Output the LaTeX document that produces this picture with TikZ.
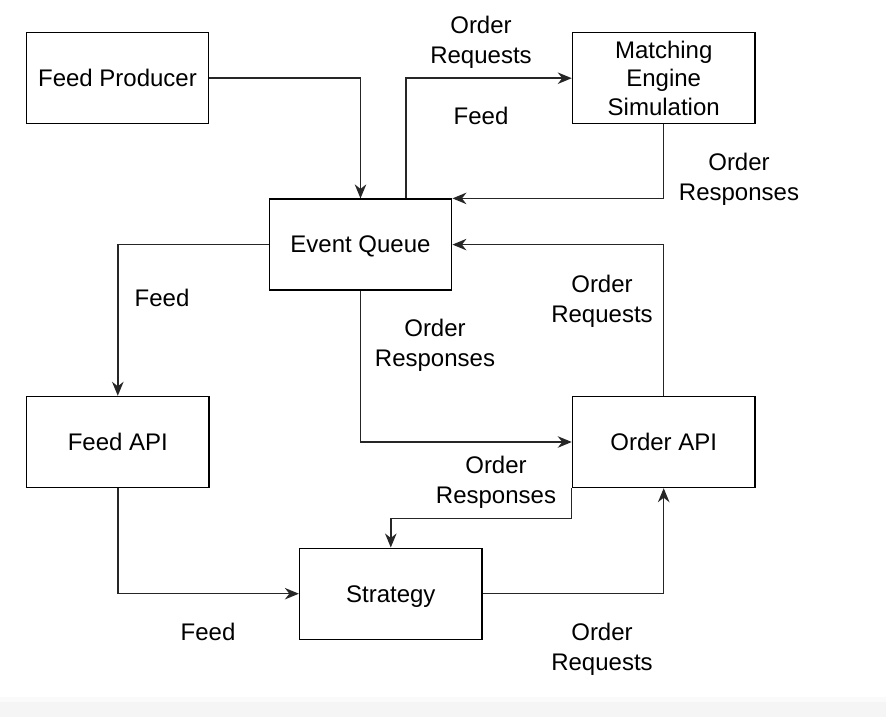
\documentclass[tikz,border=0pt]{standalone}
\usepackage{fontspec}
\setmainfont{Liberation Sans}
\usetikzlibrary{arrows.meta,positioning}
\tikzset{
  box/.style={draw=black, line width=1.4pt, fill=white, minimum width=182.5pt, minimum height=91pt, inner sep=0pt, align=center, text depth=0pt, font=\fontsize{24}{28.5}\selectfont},
  conn/.style={draw=black!85, line width=1.4pt, -{Stealth[length=14pt,width=11.5pt,inset=4.5pt]}},
  lbl/.style={align=center, inner sep=0pt, text depth=0pt, font=\fontsize{24}{30}\selectfont}
}
\begin{document}
\begin{tikzpicture}[x=1pt,y=-1pt]
\useasboundingbox (0,0) rectangle (886,717);
\fill[white] (0,0) rectangle (886,717);
\fill[black!4] (0,702) rectangle (886,717);
\fill[black!2] (0,697) rectangle (886,702);

\node[box] (FP) at (117.5,78) {Feed Producer};
\node[box] (ME) at (663.7,78.2) {Matching\\Engine\\Simulation};
\node[box] (EQ) at (360.5,244.6) {Event Queue};
\node[box] (FA) at (117.8,442) {Feed API};
\node[box] (OA) at (663.7,442) {Order API};
\node[box] (ST) at (390.8,593.7) {Strategy};

\coordinate (eqtop) at ([xshift=45.5pt]EQ.north);
\coordinate (oabend) at ([yshift=-30.5pt]OA.south west);

\draw[conn] (FP.east) -| (EQ.north);
\draw[conn] (eqtop) |- (ME.west);
\draw[conn] (ME.south) |- (EQ.north east);
\draw[conn] (OA.north) |- (EQ.east);
\draw[conn] (EQ.west) -| (FA.north);
\draw[conn] (EQ.south) |- (OA.west);
\draw[conn] (OA.south west) -- (oabend) -| (ST.north);
\draw[conn] (FA.south) |- (ST.west);
\draw[conn] (ST.east) -| (OA.south);

\node[lbl] (l1) at (481,40) {Order\\Requests};
\node[lbl] (l2) at (481,116) {Feed};
\node[lbl] (l3) at (739,177) {Order\\Responses};
\node[lbl] (l4) at (602,299) {Order\\Requests};
\node[lbl] (l5) at (162,298) {Feed};
\node[lbl] (l6) at (435,343) {Order\\Responses};
\node[lbl] (l7) at (496,480) {Order\\Responses};
\node[lbl] (l8) at (208,632) {Feed};
\node[lbl] (l9) at (602,647) {Order\\Requests};
\end{tikzpicture}
\end{document}
